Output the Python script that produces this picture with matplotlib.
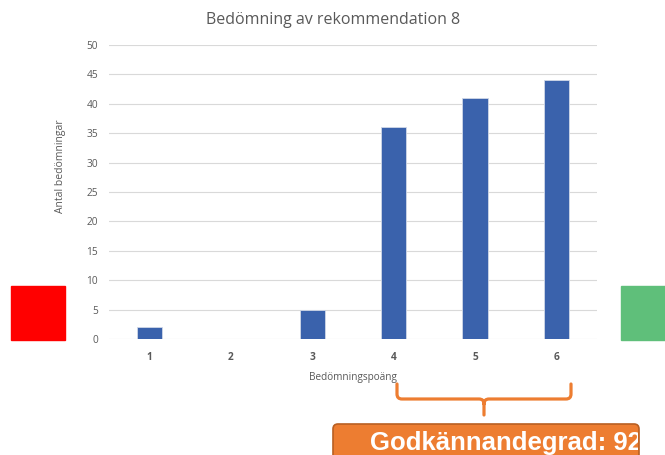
import matplotlib
matplotlib.use("Agg")
import matplotlib.pyplot as plt
import matplotlib.patches as patches
from matplotlib.path import Path
from matplotlib.transforms import Bbox, TransformedBbox

# data
scores = ["1", "2", "3", "4", "5", "6"]
counts = [2, 0, 5, 36, 41, 44]
title = "Bedömning av rekommendation 8"
xlabel = "Bedömningspoäng"
ylabel = "Antal bedömningar"
approval_text = "Godkännandegrad: 92%"

plt.rcParams['font.family'] = ['Open Sans', 'DejaVu Sans']

W, H = 665, 455
fig = plt.figure(figsize=(W / 100, H / 100), dpi=100)

# main bar chart
ax = fig.add_axes([109 / W, 1 - 339 / H, 488 / W, 294 / H])
x = range(len(scores))
ax.bar(x, counts, width=0.31, color="#3A62AC", edgecolor="#D0D8E8", linewidth=0.6, zorder=3)
ax.set_xlim(-0.5, len(scores) - 0.5)
ax.set_ylim(0, 50)
ax.set_yticks(range(0, 51, 5))
ax.set_xticks(list(x))
ax.set_xticklabels(scores, fontweight="bold")
ax.tick_params(axis="both", length=0, labelsize=7.3, colors="#595959")
ax.tick_params(axis="y", pad=8)
ax.tick_params(axis="x", pad=9)
ax.grid(axis="y", color="#D9D9D9", linewidth=0.8, zorder=0)
for s in ax.spines.values():
    s.set_visible(False)
ax.set_xlabel(xlabel, fontsize=7.2, color="#595959", labelpad=7)

# title and y label placed like the original (not centred on the axes)
fig.text(333 / W, 1 - 20 / H, title, fontsize=11.5, color="#595959", ha="center", va="center")
fig.text(61 / W, 1 - 166 / H, ylabel, fontsize=7.5, color="#595959", rotation=90,
         ha="center", va="center")

# overlay in pixel coordinates for the decorations
ov = fig.add_axes([0, 0, 1, 1], zorder=5)
ov.set_xlim(0, W)
ov.set_ylim(H, 0)
ov.axis("off")
ov.patch.set_alpha(0)

ov.add_patch(patches.Rectangle((11, 286), 54, 54, color="#FF0000"))
ov.add_patch(patches.Rectangle((621, 286), 50, 54, color="#5FBF7A"))

# curly bracket
orange = "#ED7D31"
r = 5
verts = [(397, 384), (397, 399 - r), (397, 399), (397 + r, 399),
         (484 - r, 399), (484, 399), (484, 399 + r), (484, 415),
         (484, 399 + r), (484, 399), (484 + r, 399),
         (571 - r, 399), (571, 399), (571, 399 - r), (571, 384)]
codes = [Path.MOVETO, Path.LINETO, Path.CURVE3, Path.CURVE3,
         Path.LINETO, Path.CURVE3, Path.CURVE3, Path.LINETO,
         Path.MOVETO, Path.CURVE3, Path.CURVE3,
         Path.LINETO, Path.CURVE3, Path.CURVE3, Path.LINETO]
ov.add_patch(patches.PathPatch(Path(verts, codes), fill=False, edgecolor=orange,
                               linewidth=2.3, capstyle="round"))

# label box, text cut off at its right edge
box = patches.FancyBboxPatch((333, 424), 306, 40, boxstyle="round,pad=0,rounding_size=5",
                             facecolor=orange, edgecolor="#B95F22", linewidth=1.2)
ov.add_patch(box)
t = ov.text(370, 450, approval_text, color="white", fontsize=18.5, fontweight="bold",
            family=["Liberation Sans", "DejaVu Sans"], ha="left", va="baseline")
t.set_clip_box(TransformedBbox(Bbox([[333, 424], [638, 464]]), ov.transData))
t.set_clip_on(True)

fig.savefig("out.png", dpi=100)
